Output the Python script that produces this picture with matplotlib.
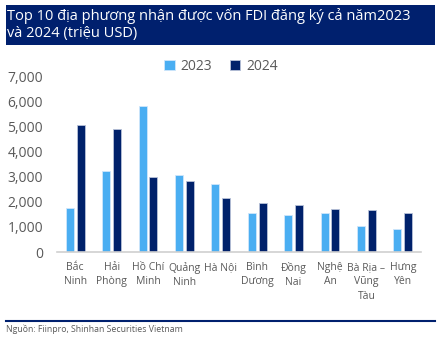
import matplotlib.pyplot as plt
import numpy as np
from matplotlib.patches import Rectangle

plt.rcParams['font.family'] = ['Open Sans', 'DejaVu Sans']

provinces = ["Bắc\nNinh", "Hải\nPhòng", "Hồ Chí\nMinh", "Quảng\nNinh", "Hà Nội",
             "Bình\nDương", "Đồng\nNai", "Nghệ\nAn", "Bà Rịa –\nVũng\nTàu", "Hưng\nYên"]
fdi_2023 = [1750, 3220, 5800, 3080, 2700, 1540, 1490, 1570, 1020, 900]
fdi_2024 = [5070, 4880, 3000, 2840, 2140, 1930, 1850, 1720, 1690, 1570]
yticks = [0, 1000, 2000, 3000, 4000, 5000, 6000, 7000]

navy = '#00216b'
light = '#4aaef2'
grey = '#595959'

fig = plt.figure(figsize=(4.39, 3.38), dpi=100)

# title band
fig.patches.append(Rectangle((6/439, 1-45/338), 429/439, 40/338, transform=fig.transFigure,
                             facecolor='#00206e', edgecolor='none'))
fig.text(7/439, 1-16/338, "Top 10 địa phương nhận được vốn FDI đăng ký cả năm2023",
         color='white', fontsize=10.5, va='center', ha='left')
fig.text(7/439, 1-34/338, "và 2024 (triệu USD)",
         color='white', fontsize=10.5, va='center', ha='left')

ax = fig.add_axes([57/439, 1-252/338, 364/439, 176/338])
x = np.arange(len(provinces))
w = 0.22
ax.bar(x - 0.15, fdi_2023, w, color=light, edgecolor='#cfe6fb', linewidth=0.6, label='2023')
ax.bar(x + 0.15, fdi_2024, w, color=navy, edgecolor='#b8c2d8', linewidth=0.6, label='2024')

ax.set_xlim(-0.5, len(provinces) - 0.5)
ax.set_ylim(0, 7000)
ax.set_yticks(yticks)
ax.set_yticklabels([f"{v:,}" for v in yticks], color=grey, fontsize=10)
ax.set_xticks(x)
ax.set_xticklabels(provinces, color=grey, fontsize=7.5, linespacing=1.45)
ax.tick_params(axis='y', length=0, pad=10)
ax.tick_params(axis='x', length=0, pad=7)
for s in ['top', 'right', 'left']:
    ax.spines[s].set_visible(False)
ax.spines['bottom'].set_color('#d0d0d0')
ax.spines['bottom'].set_linewidth(1.2)

ax.legend(loc='center', bbox_to_anchor=(221/439, 1-66/338), bbox_transform=fig.transFigure,
          ncol=2, frameon=False, fontsize=10, handlelength=0.75, handleheight=0.75,
          handletextpad=0.4, columnspacing=1.3, labelcolor=grey)

# footer
fig.add_artist(plt.Line2D([6/439, 435/439], [1-321/338, 1-321/338], transform=fig.transFigure,
                          color='#00206e', linewidth=1.5))
fig.text(6/439, 1-329/338, "Nguồn: Fiinpro, Shinhan Securities Vietnam", color=grey,
         fontsize=6.3, va='center', ha='left')

fig.savefig('out.png', dpi=100)
